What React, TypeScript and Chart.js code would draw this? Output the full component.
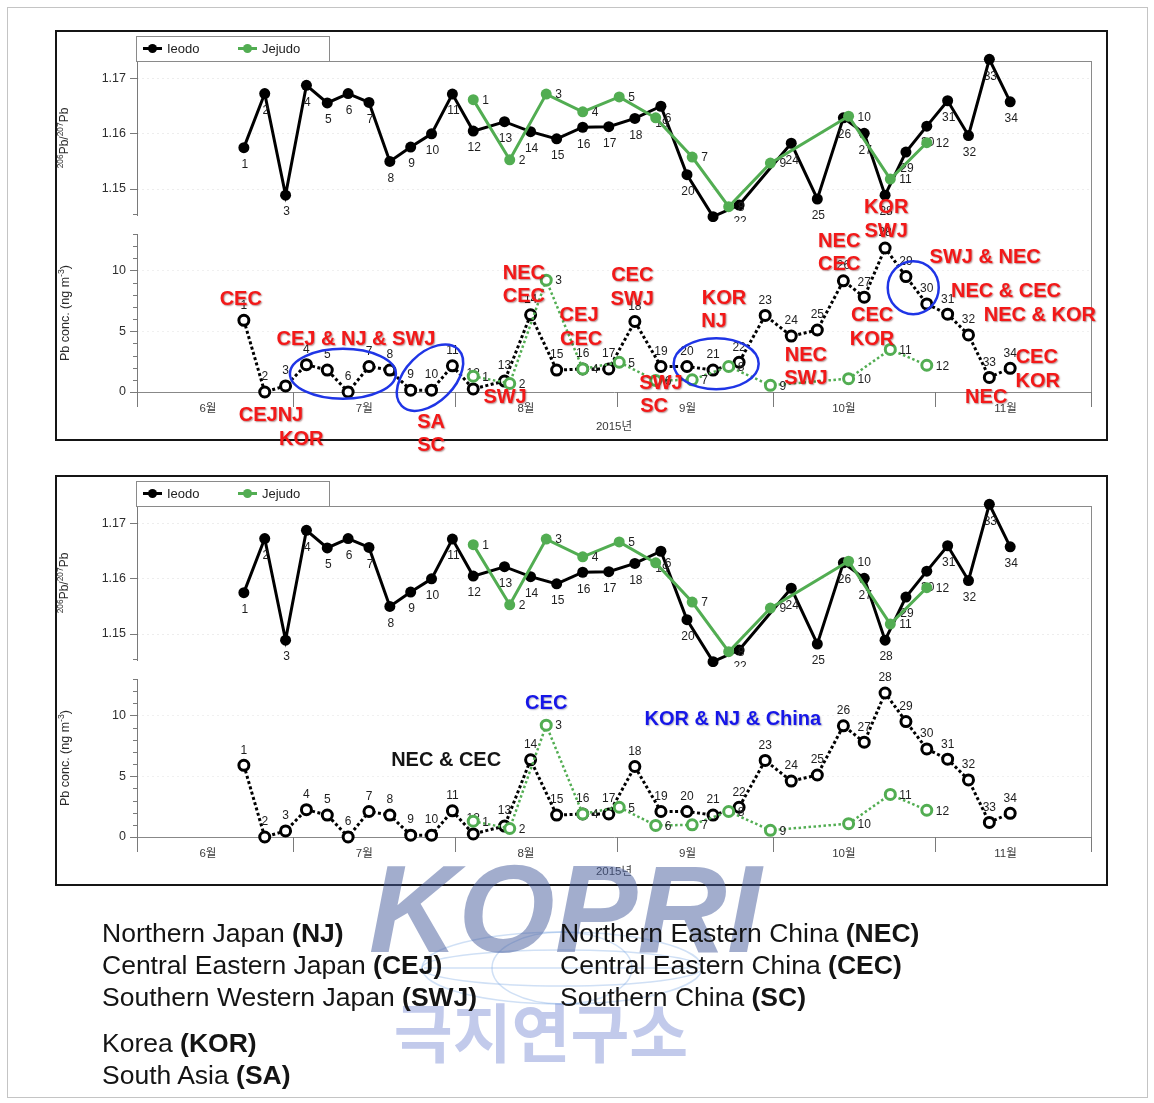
import React, { useEffect, useRef } from 'react';
import { Chart, registerables } from 'chart.js';

Chart.register(...registerables);

const FONT = "'Liberation Sans', Arial, Helvetica, 'Noto Sans CJK KR', sans-serif";
const CJK_FONT = "'Noto Sans CJK KR', 'Noto Sans CJK SC', sans-serif";

// Sampling dates in 2015 (MM-DD); the position in the list is the sample number.
const ieodoDates = [
  '06-21', '06-25', '06-29', '07-03', '07-07', '07-11', '07-15', '07-19', '07-23', '07-27',
  '07-31', '08-04', '08-10', '08-15', '08-20', '08-25', '08-30', '09-04', '09-09', '09-14',
  '09-19', '09-24', '09-29', '10-04', '10-09', '10-14', '10-18', '10-22', '10-26', '10-30',
  '11-03', '11-07', '11-11', '11-15',
];
// 206Pb/207Pb at Ieodo (sample 23 has no isotope result)
const ieodoRatio: (number | null)[] = [
  1.1574, 1.1672, 1.1488, 1.1687, 1.1655, 1.1672, 1.1656, 1.1549, 1.1575, 1.1599,
  1.1671, 1.1604, 1.1621, 1.1603, 1.159, 1.1611, 1.1612, 1.1627, 1.1649, 1.1525,
  1.1449, 1.147, null, 1.1582, 1.1481, 1.1628, 1.16, 1.1488, 1.1566, 1.1613,
  1.1659, 1.1596, 1.1734, 1.1657,
];
// Pb concentration at Ieodo (ng m-3)
const ieodoPb = [
  5.9, 0.0, 0.5, 2.25, 1.8, 0.0, 2.1, 1.8, 0.15, 0.15,
  2.15, 0.25, 0.9, 6.35, 1.8, 1.9, 1.9, 5.8, 2.1, 2.1,
  1.8, 2.45, 6.3, 4.6, 5.1, 9.15, 7.8, 11.85, 9.5, 7.25,
  6.4, 4.7, 1.2, 1.95,
];

const jejudoDates = [
  '08-04', '08-11', '08-18', '08-25', '09-01', '09-08', '09-15', '09-22', '09-30', '10-15',
  '10-23', '10-30',
];
const jejudoRatio = [
  1.1661, 1.1552, 1.1671, 1.1639, 1.1666, 1.1628, 1.1557, 1.1467, 1.1546, 1.1631,
  1.1517, 1.1583,
];
const jejudoPb = [1.3, 0.7, 9.2, 1.9, 2.45, 0.95, 1.0, 2.1, 0.55, 1.1, 3.5, 2.2];

// Time axis
const monthStarts = ['06-01', '07-01', '08-01', '09-01', '10-01', '11-01', '12-01'];
const monthNames = ['6월', '7월', '8월', '9월', '10월', '11월'];
const yearTitle = '2015년';

// Value axes
const ratioTicks = [1.15, 1.16, 1.17];
const RATIO_MIN = 1.1452;
const RATIO_MAX = 1.1731;
const pbTicks = [0, 5, 10];
const PB_MIN = 0;
const PB_MAX = 13;

// Source-region notes: [text, day since 1 June, Pb conc., colour key]
type Note = [string, number, number, string];
const upperNotes: Note[] = [
  ['CEC', 19.9, 7.6, 'red'],
  ['CEJNJ', 25.7, -1.95, 'red'],
  ['KOR', 31.5, -3.9, 'red'],
  ['CEJ & NJ & SWJ', 42.0, 4.3, 'red'],
  ['SA', 56.4, -2.5, 'red'],
  ['SC', 56.4, -4.4, 'red'],
  ['SWJ', 70.6, -0.47, 'red'],
  ['NEC', 74.2, 9.73, 'red'],
  ['CEC', 74.2, 7.84, 'red'],
  ['CEJ', 84.8, 6.27, 'red'],
  ['CEC', 85.2, 4.3, 'red'],
  ['CEC', 95.0, 9.56, 'red'],
  ['SWJ', 95.0, 7.59, 'red'],
  ['SWJ', 100.5, 0.68, 'red'],
  ['SC', 99.2, -1.21, 'red'],
  ['KOR', 112.6, 7.67, 'red'],
  ['NJ', 110.7, 5.78, 'red'],
  ['NEC', 128.3, 2.99, 'red'],
  ['SWJ', 128.3, 1.09, 'red'],
  ['NEC', 134.7, 12.36, 'red'],
  ['CEC', 134.7, 10.47, 'red'],
  ['KOR', 143.7, 15.16, 'red'],
  ['SWJ', 143.7, 13.18, 'red'],
  ['CEC', 141.0, 6.27, 'red'],
  ['KOR', 141.0, 4.3, 'red'],
  ['SWJ & NEC', 162.7, 11.05, 'red'],
  ['NEC & CEC', 166.7, 8.25, 'red'],
  ['NEC & KOR', 173.2, 6.27, 'red'],
  ['CEC', 172.6, 2.82, 'red'],
  ['KOR', 172.8, 0.85, 'red'],
  ['NEC', 162.9, -0.47, 'red'],
];
const lowerNotes: Note[] = [
  ['CEC', 78.5, 11.0, 'blue'],
  ['NEC & CEC', 59.3, 6.3, 'black'],
  ['KOR & NJ & China', 114.3, 9.65, 'blue'],
];
// Circled sample groups: [day, Pb conc., x radius px, y radius px, rotation deg]
type Ring = [number, number, number, number, number];
const upperRings: Ring[] = [
  [39.5, 1.5, 53, 25, 0],
  [56.2, 1.18, 40, 24.5, -45],
  [111.1, 2.33, 42.5, 25.5, 0],
  [148.9, 8.58, 25.5, 26.5, 0],
];
const lowerRings: Ring[] = [];

// Region abbreviations listed under the figure
const japanKeys: [string, string][] = [
  ['Northern Japan', 'NJ'],
  ['Central Eastern Japan', 'CEJ'],
  ['Southern Western Japan', 'SWJ'],
];
const chinaKeys: [string, string][] = [
  ['Northern Eastern China', 'NEC'],
  ['Central Eastern China', 'CEC'],
  ['Southern China', 'SC'],
];
const otherKeys: [string, string][] = [
  ['Korea', 'KOR'],
  ['South Asia', 'SA'],
];

const BLACK = '#000000';
const GREEN = '#52ad52';
const AXIS_GREY = '#7a7a7a';
const NOTE_COLORS: Record<string, string> = { red: '#f31818', blue: '#1616e8', black: '#151515' };
const RING_BLUE = '#1f35e6';
const MONTH_LABEL_OFFSET = 13.6;

function dayIndex(md: string): number {
  const [m, d] = md.split('-').map(Number);
  return Math.round((Date.UTC(2015, m - 1, d) - Date.UTC(2015, 5, 1)) / 86400000);
}
const sampleDay = (md: string) => dayIndex(md) + 0.5;

function seriesPoints(dates: string[], values: (number | null)[]) {
  return dates
    .map((md, i) => ({ x: sampleDay(md), y: values[i], n: i + 1 }))
    .filter((p) => p.y !== null);
}

const monthStartDays = monthStarts.map(dayIndex);
const monthLabelDays = monthStartDays.slice(0, -1).map((d) => d + MONTH_LABEL_OFFSET);
const X_MIN = monthStartDays[0];
const X_MAX = monthStartDays[monthStartDays.length - 1];

const crisp = (v: number) => Math.round(v) + 0.5;

function hLine(ctx: CanvasRenderingContext2D, x1: number, x2: number, y: number) {
  ctx.beginPath();
  ctx.moveTo(x1, crisp(y));
  ctx.lineTo(x2, crisp(y));
  ctx.stroke();
}
function vLine(ctx: CanvasRenderingContext2D, x: number, y1: number, y2: number) {
  ctx.beginPath();
  ctx.moveTo(crisp(x), y1);
  ctx.lineTo(crisp(x), y2);
  ctx.stroke();
}

// Rotated axis title with superscript runs
function drawRotatedTitle(
  ctx: CanvasRenderingContext2D,
  x: number,
  y: number,
  parts: { t: string; sup?: boolean }[],
  size: number,
) {
  const sup = size * 0.7;
  ctx.save();
  ctx.translate(x, y);
  ctx.rotate(-Math.PI / 2);
  const widths = parts.map((p) => {
    ctx.font = `${p.sup ? sup : size}px ${FONT}`;
    return ctx.measureText(p.t).width;
  });
  let cx = -widths.reduce((s, w) => s + w, 0) / 2;
  ctx.fillStyle = '#2a2a2a';
  ctx.textAlign = 'left';
  ctx.textBaseline = 'alphabetic';
  parts.forEach((p, i) => {
    ctx.font = `${p.sup ? sup : size}px ${FONT}`;
    ctx.fillText(p.t, cx, p.sup ? size * 0.35 - size * 0.45 : size * 0.35);
    cx += widths[i];
  });
  ctx.restore();
}

// Sample numbers beside each marker, drawn right after their own series
const sampleNumbers = {
  id: 'sampleNumbers',
  afterDatasetDraw(chart: any, args: any) {
    const ds = chart.data.datasets[args.index];
    const place = ds.numberPlacement;
    if (!place) return;
    const ctx = chart.ctx as CanvasRenderingContext2D;
    ctx.save();
    ctx.font = `12px ${FONT}`;
    ctx.fillStyle = '#1e1e1e';
    ctx.textBaseline = 'middle';
    args.meta.data.forEach((el: any, j: number) => {
      const n = String(ds.data[j].n);
      if (place === 'right') {
        ctx.textAlign = 'left';
        ctx.fillText(n, el.x + 9, el.y + 1);
      } else if (place === 'below') {
        ctx.textAlign = 'center';
        ctx.fillText(n, el.x + 1, el.y + 17);
      } else {
        ctx.textAlign = 'center';
        ctx.fillText(n, el.x, el.y - 15);
      }
    });
    ctx.restore();
  },
};

const ratioDecor = {
  id: 'ratioDecor',
  beforeDatasetsDraw(chart: any) {
    const ctx = chart.ctx as CanvasRenderingContext2D;
    const a = chart.chartArea;
    const y = chart.scales.y;
    ctx.save();
    ctx.strokeStyle = 'rgba(0,0,0,0.07)';
    ctx.lineWidth = 1;
    ctx.setLineDash([2, 3]);
    ratioTicks.forEach((v) => hLine(ctx, a.left, a.right, y.getPixelForValue(v)));
    ctx.setLineDash([]);
    ctx.strokeStyle = '#8a8a8a';
    hLine(ctx, a.left, a.right, a.top);
    vLine(ctx, a.right, a.top, chart.height);
    ctx.strokeStyle = AXIS_GREY;
    ratioTicks.forEach((v) => hLine(ctx, a.left - 7, a.left, y.getPixelForValue(v)));
    hLine(ctx, a.left - 4, a.left, y.getPixelForValue(RATIO_MIN) - 1);
    ctx.restore();
  },
  afterDraw(chart: any) {
    const ctx = chart.ctx as CanvasRenderingContext2D;
    const a = chart.chartArea;
    // legend box
    const x0 = a.left - 1;
    const y0 = a.top - 25;
    ctx.save();
    ctx.fillStyle = '#ffffff';
    ctx.fillRect(x0, y0, 193, 25);
    ctx.strokeStyle = '#8a8a8a';
    ctx.lineWidth = 1;
    ctx.strokeRect(crisp(x0), crisp(y0), 193, 25);
    const cy = y0 + 12.5;
    const slots = [7, 102];
    chart.data.datasets.forEach((ds: any, i: number) => {
      const sx = x0 + slots[i];
      ctx.strokeStyle = ds.borderColor;
      ctx.lineWidth = 3;
      ctx.beginPath();
      ctx.moveTo(sx, cy);
      ctx.lineTo(sx + 19, cy);
      ctx.stroke();
      ctx.fillStyle = ds.borderColor;
      ctx.beginPath();
      ctx.arc(sx + 9.5, cy, 4.5, 0, Math.PI * 2);
      ctx.fill();
      ctx.fillStyle = '#222';
      ctx.font = `13px ${FONT}`;
      ctx.textAlign = 'left';
      ctx.textBaseline = 'middle';
      ctx.fillText(ds.label, sx + 24, cy + 0.5);
    });
    ctx.restore();
    drawRotatedTitle(
      ctx,
      7,
      (a.top + a.bottom) / 2,
      [{ t: '206', sup: true }, { t: 'Pb/' }, { t: '207', sup: true }, { t: 'Pb' }],
      12,
    );
  },
};

function makePbDecor(notes: Note[], rings: Ring[]) {
  return {
    id: 'pbDecor',
    beforeDatasetsDraw(chart: any) {
      const ctx = chart.ctx as CanvasRenderingContext2D;
      const a = chart.chartArea;
      const { x, y } = chart.scales;
      ctx.save();
      ctx.strokeStyle = 'rgba(0,0,0,0.06)';
      ctx.lineWidth = 1;
      ctx.setLineDash([2, 3]);
      pbTicks.slice(1).forEach((v) => hLine(ctx, a.left, a.right, y.getPixelForValue(v)));
      ctx.setLineDash([]);
      ctx.strokeStyle = '#8a8a8a';
      vLine(ctx, a.right, 0, a.bottom);
      ctx.strokeStyle = AXIS_GREY;
      for (let v = PB_MIN; v <= PB_MAX; v += 1) {
        const len = pbTicks.includes(v) ? 7 : 4;
        hLine(ctx, a.left - len, a.left, y.getPixelForValue(v));
      }
      monthStartDays.forEach((d) => vLine(ctx, x.getPixelForValue(d), a.bottom, a.bottom + 15));
      ctx.restore();
    },
    afterDraw(chart: any) {
      const ctx = chart.ctx as CanvasRenderingContext2D;
      const a = chart.chartArea;
      const { x, y } = chart.scales;
      drawRotatedTitle(
        ctx,
        8,
        (a.top + a.bottom) / 2,
        [{ t: 'Pb conc. (ng m' }, { t: '-3', sup: true }, { t: ')' }],
        12.5,
      );
      ctx.save();
      ctx.strokeStyle = RING_BLUE;
      ctx.lineWidth = 2.5;
      rings.forEach(([d, v, rx, ry, rot]) => {
        ctx.beginPath();
        ctx.ellipse(x.getPixelForValue(d), y.getPixelForValue(v), rx, ry, (rot * Math.PI) / 180, 0, Math.PI * 2);
        ctx.stroke();
      });
      ctx.font = `bold 20px ${FONT}`;
      ctx.textAlign = 'center';
      ctx.textBaseline = 'middle';
      notes.forEach(([text, d, v, key]) => {
        ctx.shadowColor = key === 'red' ? 'rgba(90,0,0,0.45)' : key === 'blue' ? 'rgba(0,0,60,0.3)' : 'rgba(0,0,0,0)';
        ctx.shadowOffsetX = 1;
        ctx.shadowOffsetY = 1;
        ctx.shadowBlur = 1.5;
        ctx.fillStyle = NOTE_COLORS[key];
        ctx.fillText(text, x.getPixelForValue(d), y.getPixelForValue(v));
      });
      ctx.restore();
    },
  };
}

const hiddenX = { type: 'linear', display: false, min: X_MIN, max: X_MAX };

function valueAxis(min: number, max: number, ticks: number[], fmt: (v: number) => string) {
  return {
    type: 'linear',
    min,
    max,
    afterBuildTicks: (s: any) => {
      s.ticks = ticks.map((v) => ({ value: v }));
    },
    afterFit: (s: any) => {
      s.width = 80;
      s.paddingTop = 0;
      s.paddingBottom = 0;
    },
    ticks: {
      padding: 11,
      color: '#2e2e2e',
      font: { family: FONT, size: 12.5 },
      callback: (v: any) => fmt(Number(v)),
    },
    grid: { display: false, drawTicks: false },
    border: { display: true, color: AXIS_GREY, width: 1 },
  };
}

function buildRatioChart(canvas: HTMLCanvasElement) {
  return new Chart(canvas, {
    type: 'line',
    data: {
      datasets: [
        {
          label: 'Ieodo',
          data: seriesPoints(ieodoDates, ieodoRatio),
          borderColor: BLACK,
          backgroundColor: BLACK,
          borderWidth: 3,
          pointRadius: 5.5,
          pointBorderWidth: 0,
          pointBackgroundColor: BLACK,
          order: 2,
          clip: false,
          numberPlacement: 'below',
        },
        {
          label: 'Jejudo',
          data: seriesPoints(jejudoDates, jejudoRatio),
          borderColor: GREEN,
          backgroundColor: GREEN,
          borderWidth: 3,
          pointRadius: 5.5,
          pointBorderWidth: 0,
          pointBackgroundColor: GREEN,
          order: 1,
          clip: false,
          numberPlacement: 'right',
        },
      ],
    } as any,
    options: {
      responsive: false,
      animation: false,
      events: [],
      layout: { padding: { left: 0, right: 15, top: 29, bottom: 7 } },
      plugins: { legend: { display: false }, tooltip: { enabled: false } },
      scales: {
        x: hiddenX,
        y: valueAxis(RATIO_MIN, RATIO_MAX, ratioTicks, (v) => v.toFixed(2)),
      },
    } as any,
    plugins: [sampleNumbers, ratioDecor],
  });
}

function buildPbChart(canvas: HTMLCanvasElement, notes: Note[], rings: Ring[]) {
  return new Chart(canvas, {
    type: 'line',
    data: {
      datasets: [
        {
          label: 'Ieodo',
          data: seriesPoints(ieodoDates, ieodoPb),
          borderColor: BLACK,
          borderWidth: 3,
          borderDash: [3, 2.5],
          pointRadius: 5,
          pointBorderWidth: 3,
          pointBorderColor: BLACK,
          pointBackgroundColor: '#ffffff',
          order: 2,
          clip: false,
          numberPlacement: 'above',
        },
        {
          label: 'Jejudo',
          data: seriesPoints(jejudoDates, jejudoPb),
          borderColor: GREEN,
          borderWidth: 2.5,
          borderDash: [2.5, 2.5],
          pointRadius: 5,
          pointBorderWidth: 3,
          pointBorderColor: GREEN,
          pointBackgroundColor: '#ffffff',
          order: 1,
          clip: false,
          numberPlacement: 'right',
        },
      ],
    } as any,
    options: {
      responsive: false,
      animation: false,
      events: [],
      layout: { padding: { left: 0, right: 15, top: 54, bottom: 26 } },
      plugins: { legend: { display: false }, tooltip: { enabled: false } },
      scales: {
        x: {
          type: 'linear',
          min: X_MIN,
          max: X_MAX,
          afterBuildTicks: (s: any) => {
            s.ticks = monthLabelDays.map((v) => ({ value: v }));
          },
          afterFit: (s: any) => {
            s.height = 42;
            s.paddingLeft = 0;
            s.paddingRight = 0;
          },
          ticks: {
            autoSkip: false,
            maxRotation: 0,
            padding: 9.5,
            color: '#3a3a3a',
            font: { family: FONT, size: 11.5 },
            callback: (v: any) => {
              const i = monthLabelDays.findIndex((d) => Math.abs(d - Number(v)) < 1e-6);
              return i >= 0 ? monthNames[i] : '';
            },
          },
          grid: { display: false, drawTicks: false },
          border: { display: true, color: '#888888', width: 1 },
          title: {
            display: true,
            text: yearTitle,
            color: '#3a3a3a',
            font: { family: FONT, size: 11.5 },
            padding: 0,
          },
        },
        y: valueAxis(PB_MIN, PB_MAX, pbTicks, (v) => String(v)),
      },
    } as any,
    plugins: [sampleNumbers, makePbDecor(notes, rings)],
  });
}

function Panel({ top, notes, rings }: { top: number; notes: Note[]; rings: Ring[] }) {
  const ratioRef = useRef<HTMLCanvasElement>(null);
  const pbRef = useRef<HTMLCanvasElement>(null);
  useEffect(() => {
    const ratio = buildRatioChart(ratioRef.current as HTMLCanvasElement);
    const pb = buildPbChart(pbRef.current as HTMLCanvasElement, notes, rings);
    return () => {
      ratio.destroy();
      pb.destroy();
    };
  }, [notes, rings]);
  return (
    <>
      <div
        style={{
          position: 'absolute',
          left: 55,
          top,
          width: 1053,
          height: 411,
          border: '2px solid #151515',
          boxSizing: 'border-box',
        }}
      />
      <canvas
        ref={ratioRef}
        width={1049}
        height={190}
        style={{ position: 'absolute', left: 57, top: top + 2, width: 1049, height: 190 }}
      />
      <canvas
        ref={pbRef}
        width={1049}
        height={280}
        style={{ position: 'absolute', left: 57, top: top + 150, width: 1049, height: 280 }}
      />
    </>
  );
}

function KeyLine({ name, abbr, left, top }: { name: string; abbr: string; left: number; top: number }) {
  return (
    <div
      style={{
        position: 'absolute',
        left,
        top,
        height: 30,
        lineHeight: '30px',
        fontSize: 26.5,
        fontFamily: FONT,
        color: '#141414',
        whiteSpace: 'nowrap',
      }}
    >
      {name} <b>({abbr})</b>
    </div>
  );
}

function Watermark() {
  return (
    <svg
      width={1154}
      height={1103}
      style={{ position: 'absolute', left: 0, top: 0, pointerEvents: 'none' }}
    >
      <g fill="none" stroke="rgba(120,165,225,0.35)" strokeWidth={1.5}>
        <ellipse cx={562} cy={968} rx={140} ry={36} />
        <ellipse cx={562} cy={968} rx={140} ry={18} />
        <line x1={424} y1={968} x2={700} y2={968} />
        <ellipse cx={562} cy={968} rx={70} ry={36} />
      </g>
      <text
        x={565}
        y={952}
        textAnchor="middle"
        fontSize={124}
        fontWeight="bold"
        fontStyle="italic"
        fontFamily={FONT}
        fill="rgba(70,92,155,0.5)"
      >
        KOPRI
      </text>
      <text
        x={541}
        y={1057}
        textAnchor="middle"
        fontSize={64}
        fontWeight="bold"
        fontFamily={CJK_FONT}
        fill="rgba(115,135,210,0.44)"
      >
        극지연구소
      </text>
    </svg>
  );
}

export default function App() {
  return (
    <div
      style={{
        position: 'absolute',
        left: 0,
        top: 0,
        width: 1154,
        height: 1103,
        background: '#ffffff',
        overflow: 'hidden',
        fontFamily: FONT,
      }}
    >
      <div
        style={{
          position: 'absolute',
          left: 7,
          top: 7,
          width: 1141,
          height: 1091,
          border: '1px solid #c4c4c4',
          boxSizing: 'border-box',
        }}
      />
      <Panel top={30} notes={upperNotes} rings={upperRings} />
      <Panel top={475} notes={lowerNotes} rings={lowerRings} />
      <Watermark />
      {japanKeys.map(([n, a], i) => (
        <KeyLine key={a} name={n} abbr={a} left={102} top={918 + i * 32} />
      ))}
      {chinaKeys.map(([n, a], i) => (
        <KeyLine key={a} name={n} abbr={a} left={560} top={918 + i * 32} />
      ))}
      {otherKeys.map(([n, a], i) => (
        <KeyLine key={a} name={n} abbr={a} left={102} top={1028 + i * 32} />
      ))}
    </div>
  );
}
